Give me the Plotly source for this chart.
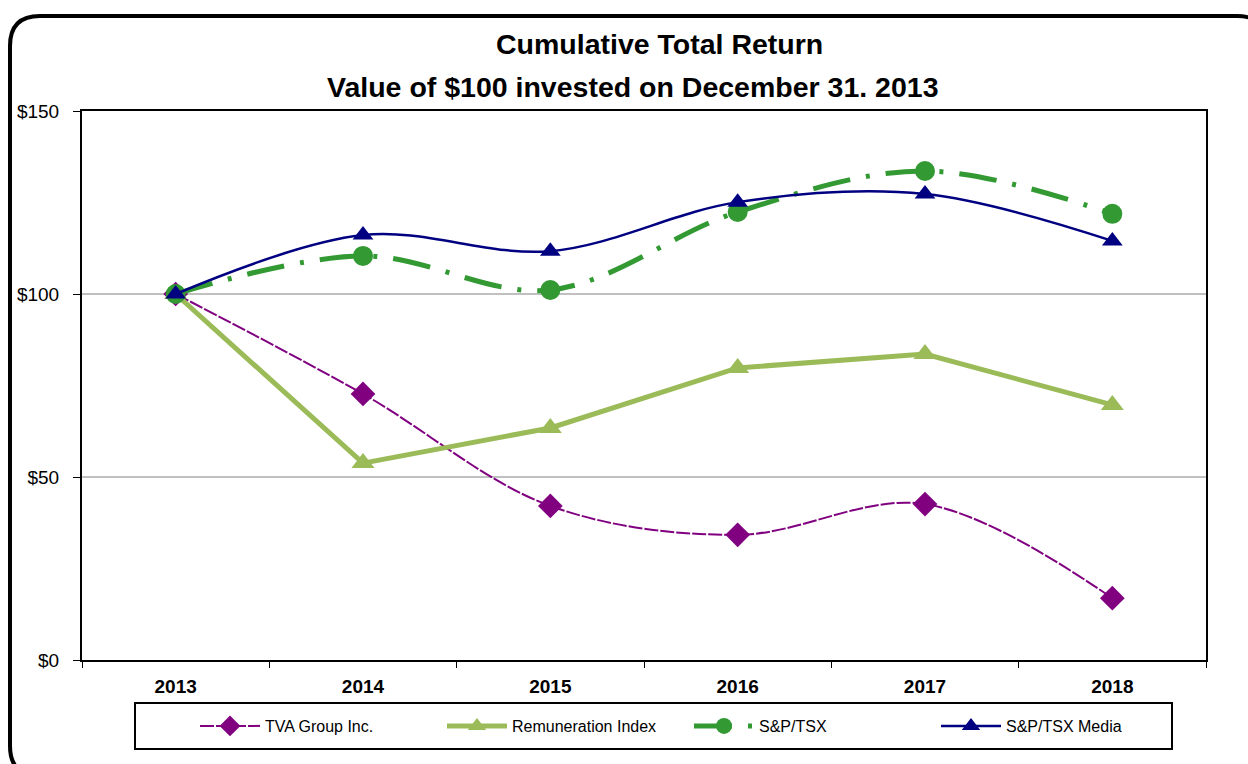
import plotly.graph_objects as go

years = ["2013", "2014", "2015", "2016", "2017", "2018"]
tva = [100, 72.7, 42.1, 34.2, 42.6, 16.9]
remuneration = [100, 53.8, 63.4, 79.8, 83.6, 69.7]
sptsx = [100, 110.4, 101.1, 122.4, 133.6, 121.9]
sptsx_media = [100, 116.1, 111.7, 125.1, 127.3, 114.5]

W, H = 1248, 764
L, R, T, B = 82, 42, 111, 104
PW, PH = W - L - R, H - T - B

def px(x):
    return (x - L) / PW

def py(y):
    return (H - B - y) / PH

FONT = "Liberation Sans, Arial, sans-serif"

fig = go.Figure()
fig.add_trace(go.Scatter(
    x=years, y=tva, name="TVA Group Inc.", mode="lines+markers",
    line=dict(color="#800080", width=2, dash="14px,2px", shape="spline", smoothing=1),
    marker=dict(symbol="diamond", size=19, color="#800080")))
fig.add_trace(go.Scatter(
    x=years, y=remuneration, name="Remuneration Index", mode="lines+markers",
    line=dict(color="#9BBB59", width=5),
    marker=dict(symbol="triangle-up", size=20, color="#9BBB59")))
fig.add_trace(go.Scatter(
    x=years, y=sptsx, name="S&P/TSX", mode="lines+markers",
    line=dict(color="#339933", width=5, dash="38px,16px,4px,16px", shape="spline", smoothing=1),
    marker=dict(symbol="circle", size=20, color="#339933")))
fig.add_trace(go.Scatter(
    x=years, y=sptsx_media, name="S&P/TSX Media", mode="lines+markers",
    line=dict(color="#000080", width=2.5, shape="spline", smoothing=1),
    marker=dict(symbol="triangle-up", size=18, color="#000080")))

# rounded outer frame
x0, y0, x1, y1, r = px(10), py(16), px(1267), py(776), 30
rx, ry = r / PW, r / PH
path = (f"M {x0} {y0 - ry} L {x0} {y1 + ry} Q {x0} {y1} {x0 + rx} {y1} "
        f"L {x1 - rx} {y1} Q {x1} {y1} {x1} {y1 + ry} L {x1} {y0 - ry} "
        f"Q {x1} {y0} {x1 - rx} {y0} L {x0 + rx} {y0} Q {x0} {y0} {x0} {y0 - ry} Z")

fig.update_layout(
    width=W, height=H,
    margin=dict(l=L, r=R, t=T, b=B),
    paper_bgcolor="white", plot_bgcolor="white",
    font=dict(family=FONT, color="black"),
    showlegend=True,
    legend=dict(orientation="h", x=px(195), xanchor="left", y=py(726), yanchor="middle",
                bgcolor="rgba(0,0,0,0)", borderwidth=0, font=dict(size=16, family=FONT),
                itemwidth=60, entrywidth=172, traceorder="normal"),
    shapes=[
        dict(type="path", path=path, xref="paper", yref="paper",
             line=dict(color="black", width=4), layer="above"),
        dict(type="rect", xref="paper", yref="paper", x0=px(135), x1=px(1172),
             y0=py(703), y1=py(749), line=dict(color="black", width=2), layer="below"),
    ],
    annotations=[
        dict(text="<b>Cumulative Total Return</b>", x=px(659), y=py(44), xref="paper", yref="paper",
             showarrow=False, font=dict(size=28.5, family=FONT), xanchor="center", yanchor="middle"),
        dict(text="<b>Value of $100 invested on December 31. 2013</b>", x=px(632), y=py(87),
             xref="paper", yref="paper", showarrow=False, font=dict(size=28.5, family=FONT),
             xanchor="center", yanchor="middle"),
    ],
)
fig.update_xaxes(type="category", range=[-0.5, 5.5], showgrid=False,
                 showline=True, linecolor="black", linewidth=2, mirror=True,
                 ticks="outside", tickson="boundaries", ticklen=6, tickcolor="black",
                 tickfont=dict(size=19, family=FONT), tickprefix="<b>", ticksuffix="</b>",
                 ticklabelstandoff=8)
fig.update_yaxes(range=[0, 150], dtick=50, tickprefix="$", showgrid=True, gridcolor="#C0C0C0",
                 gridwidth=2, showline=True, linecolor="black", linewidth=2, mirror=True,
                 ticks="outside", ticklen=7, tickcolor="black", zeroline=False,
                 tickfont=dict(size=19, family=FONT), ticklabelstandoff=10)

fig.write_html("out.html", config={"displayModeBar": False},
               post_script="document.body.style.margin='0';document.body.style.overflow='hidden';")
